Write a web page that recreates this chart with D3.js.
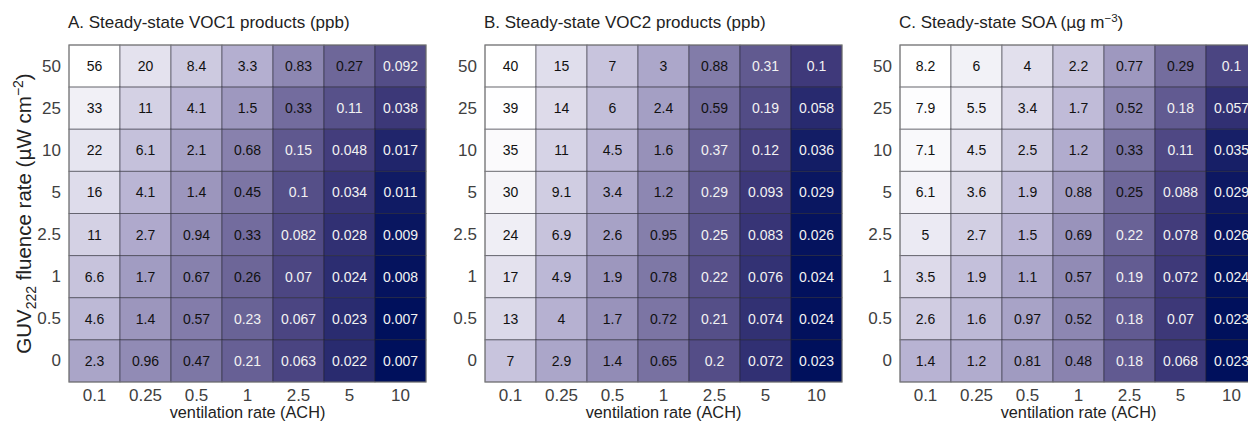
<!DOCTYPE html>
<html>
<head>
<meta charset="utf-8">
<script src="https://cdn.jsdelivr.net/npm/d3@7"></script>
<style>
  body { margin: 0; background: #fff; }
  text { font-family: "Liberation Sans", Arial, sans-serif; }
</style>
</head>
<body>
<div id="chart"></div>
<script>
// ventilation rates (columns) and GUV fluence rates (rows, top to bottom)
var ventRates = ["0.1", "0.25", "0.5", "1", "2.5", "5", "10"];
var fluenceRates = ["50", "25", "10", "5", "2.5", "1", "0.5", "0"];

var voc1 = [
    [56, 20, 8.4, 3.3, 0.83, 0.27, 0.092],
    [33, 11, 4.1, 1.5, 0.33, 0.11, 0.038],
    [22, 6.1, 2.1, 0.68, 0.15, 0.048, 0.017],
    [16, 4.1, 1.4, 0.45, 0.1, 0.034, 0.011],
    [11, 2.7, 0.94, 0.33, 0.082, 0.028, 0.009],
    [6.6, 1.7, 0.67, 0.26, 0.07, 0.024, 0.008],
    [4.6, 1.4, 0.57, 0.23, 0.067, 0.023, 0.007],
    [2.3, 0.96, 0.47, 0.21, 0.063, 0.022, 0.007]
];

var voc2 = [
    [40, 15, 7, 3, 0.88, 0.31, 0.1],
    [39, 14, 6, 2.4, 0.59, 0.19, 0.058],
    [35, 11, 4.5, 1.6, 0.37, 0.12, 0.036],
    [30, 9.1, 3.4, 1.2, 0.29, 0.093, 0.029],
    [24, 6.9, 2.6, 0.95, 0.25, 0.083, 0.026],
    [17, 4.9, 1.9, 0.78, 0.22, 0.076, 0.024],
    [13, 4, 1.7, 0.72, 0.21, 0.074, 0.024],
    [7, 2.9, 1.4, 0.65, 0.2, 0.072, 0.023]
];

var soa = [
    [8.2, 6, 4, 2.2, 0.77, 0.29, 0.1],
    [7.9, 5.5, 3.4, 1.7, 0.52, 0.18, 0.057],
    [7.1, 4.5, 2.5, 1.2, 0.33, 0.11, 0.035],
    [6.1, 3.6, 1.9, 0.88, 0.25, 0.088, 0.029],
    [5, 2.7, 1.5, 0.69, 0.22, 0.078, 0.026],
    [3.5, 1.9, 1.1, 0.57, 0.19, 0.072, 0.024],
    [2.6, 1.6, 0.97, 0.52, 0.18, 0.07, 0.023],
    [1.4, 1.2, 0.81, 0.48, 0.18, 0.068, 0.023]
];

var W = 1248, H = 423;
var gridW = 357, gridH = 337, gridTop = 45;

var svg = d3.select("#chart")
    .append("svg")
    .attr("width", W)
    .attr("height", H);

// white -> lavender -> purple -> navy
var ramp = d3.scaleLinear()
    .domain([0, 0.3, 0.6, 0.8, 1])
    .range(["#ffffff", "#b8b3d3", "#6c6598", "#403a7a", "#00105c"]);

var panels = [
    {left: 69, data: voc1, title: [{t: "A. Steady-state VOC1 products (ppb)"}]},
    {left: 485, data: voc2, title: [{t: "B. Steady-state VOC2 products (ppb)"}]},
    {left: 900, data: soa, title: [{t: "C. Steady-state SOA ("}, {t: "\u03bc", f: "DejaVu Sans"}, {t: "g m"}, {t: "\u22123", sup: true}, {t: ")", after: true}]}
];

panels.forEach(function(p, pi) {
    var g = svg.append("g").attr("transform", "translate(" + p.left + "," + gridTop + ")");

    var x = d3.scaleBand().domain(ventRates).range([0, gridW]);
    var y = d3.scaleBand().domain(fluenceRates).range([0, gridH]);

    var flat = [];
    p.data.forEach(function(row, r) {
        row.forEach(function(v, c) {
            flat.push({row: fluenceRates[r], col: ventRates[c], v: v});
        });
    });

    // log color scale per panel, max -> white, min -> navy
    var t = d3.scaleLog()
        .domain(d3.extent(flat, function(d) { return d.v; }).reverse())
        .range([0, 1]);

    g.selectAll("rect.cell")
        .data(flat)
        .enter().append("rect")
        .attr("class", "cell")
        .attr("x", function(d) { return x(d.col); })
        .attr("y", function(d) { return y(d.row); })
        .attr("width", x.bandwidth())
        .attr("height", y.bandwidth())
        .style("fill", function(d) { return ramp(t(d.v)); })
        .style("stroke", "rgba(30,30,40,0.5)")
        .style("stroke-width", 1);

    g.selectAll("text.val")
        .data(flat)
        .enter().append("text")
        .attr("class", "val")
        .attr("x", function(d) { return x(d.col) + x.bandwidth() / 2; })
        .attr("y", function(d) { return y(d.row) + y.bandwidth() / 2; })
        .attr("dy", "0.36em")
        .attr("text-anchor", "middle")
        .style("font-size", "14px")
        .style("fill", function(d) { return t(d.v) > 0.605 ? "#f2f2f2" : "#111"; })
        .text(function(d) { return String(d.v); });

    g.append("rect")
        .attr("width", gridW)
        .attr("height", gridH)
        .style("fill", "none")
        .style("stroke", "#7a7a7a")
        .style("stroke-width", 1);

    var yAxis = g.append("g")
        .call(d3.axisLeft(y).tickSize(0).tickPadding(8));
    yAxis.select(".domain").remove();
    yAxis.selectAll("text")
        .style("font-size", "17px")
        .style("fill", "#404040")
        .style("font-family", "Liberation Sans, Arial, sans-serif");

    var xAxis = g.append("g")
        .attr("transform", "translate(0," + gridH + ")")
        .call(d3.axisBottom(x).tickSize(0).tickPadding(7));
    xAxis.select(".domain").remove();
    xAxis.selectAll("text")
        .style("font-size", "17px")
        .style("fill", "#404040")
        .style("font-family", "Liberation Sans, Arial, sans-serif");

    g.append("text")
        .attr("x", gridW / 2)
        .attr("y", 373)
        .attr("text-anchor", "middle")
        .style("font-size", "16.3px")
        .style("fill", "#222")
        .text("ventilation rate (ACH)");

    // title
    var title = g.append("text")
        .attr("x", -1)
        .attr("y", -17)
        .style("font-size", "17px")
        .style("fill", "#222");
    p.title.forEach(function(s) {
        var ts = title.append("tspan").text(s.t);
        if (s.f) ts.style("font-family", s.f).style("font-size", "15.5px");
        if (s.sup) ts.attr("dy", -6).style("font-size", "11.5px");
        if (s.after) ts.attr("dy", 6);
    });

    if (pi === 0) {
        var yl = g.append("text")
            .attr("transform", "translate(-38," + gridH / 2 + ") rotate(-90)")
            .attr("text-anchor", "middle")
            .style("font-size", "20.5px")
            .style("fill", "#222");
        yl.append("tspan").text("GUV");
        yl.append("tspan").attr("dy", 5).style("font-size", "14px").text("222");
        yl.append("tspan").attr("dy", -5).text(" fluence rate (");
        yl.append("tspan").style("font-family", "DejaVu Sans").style("font-size", "19px").text("\u03bc");
        yl.append("tspan").text("W cm");
        yl.append("tspan").attr("dy", -8).style("font-size", "14px").text("\u22122");
        yl.append("tspan").attr("dy", 8).text(")");
    }
});
</script>
</body>
</html>
